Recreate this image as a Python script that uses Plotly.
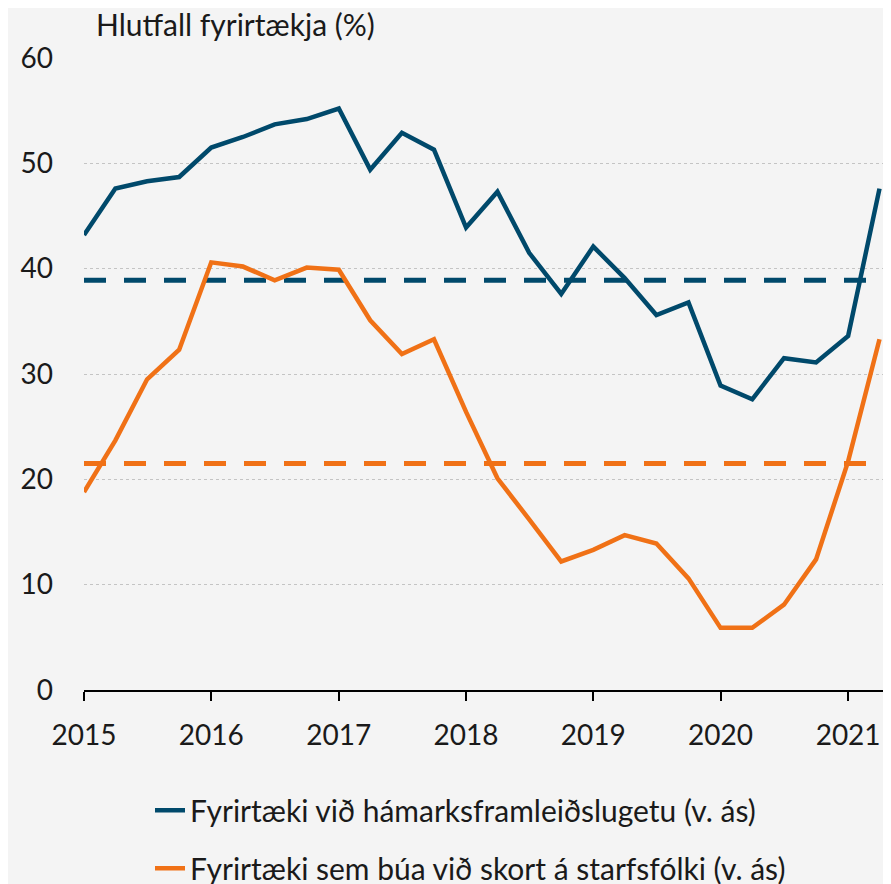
import plotly.graph_objects as go

quarters = [
    "2015-01-01", "2015-04-01", "2015-07-01", "2015-10-01",
    "2016-01-01", "2016-04-01", "2016-07-01", "2016-10-01",
    "2017-01-01", "2017-04-01", "2017-07-01", "2017-10-01",
    "2018-01-01", "2018-04-01", "2018-07-01", "2018-10-01",
    "2019-01-01", "2019-04-01", "2019-07-01", "2019-10-01",
    "2020-01-01", "2020-04-01", "2020-07-01", "2020-10-01",
    "2021-01-01", "2021-04-01",
]

capacity = [
    43.2, 47.6, 48.3, 48.7,
    51.5, 52.5, 53.7, 54.2,
    55.2, 49.4, 52.9, 51.3,
    43.9, 47.3, 41.5, 37.6,
    42.1, 39.1, 35.6, 36.8,
    28.9, 27.6, 31.5, 31.1,
    33.6, 47.6,
]

labour_shortage = [
    18.8, 23.7, 29.5, 32.3,
    40.6, 40.2, 38.9, 40.1,
    39.9, 35.1, 31.9, 33.3,
    26.4, 20.1, 16.2, 12.2,
    13.3, 14.7, 13.9, 10.6,
    5.9, 5.9, 8.1, 12.4,
    21.7, 33.3,
]

capacity_avg = 38.9
labour_avg = 21.5

names = [
    "Fyrirtæki við hámarksframleiðslugetu (v. ás)",
    "Fyrirtæki sem búa við skort á starfsfólki (v. ás)",
]

x_range = ["2015-01-01", "2021-05-04"]

BLUE = "#00496b"
ORANGE = "#f07116"
FONT = "Lato"
TXT = "#1a1a1a"

# page body has an 8px margin; compensate so the figure lines up with the 891x884 window
W, H = 883, 876

fig = go.Figure()

fig.add_hline(y=capacity_avg, line=dict(color=BLUE, width=5, dash="22px,18px"), layer="below")
fig.add_hline(y=labour_avg, line=dict(color=ORANGE, width=5, dash="22px,18px"), layer="below")

fig.add_trace(go.Scatter(x=quarters, y=capacity, mode="lines", name=names[0],
                         line=dict(color=BLUE, width=4.5), legendgroup="a"))
fig.add_trace(go.Scatter(x=quarters, y=labour_shortage, mode="lines", name=names[1],
                         line=dict(color=ORANGE, width=4.5), legendgroup="b"))

fig.update_layout(
    width=W, height=H,
    margin=dict(l=76, r=0, t=50, b=194, autoexpand=False),
    paper_bgcolor="#f4f4f4", plot_bgcolor="#f4f4f4",
    font=dict(family=FONT, size=30, color=TXT),
    title=dict(text="Hlutfall fyrirtækja (%)", x=88/W, xanchor="left",
               y=1, yanchor="top", pad=dict(t=7, b=0, l=0, r=0),
               font=dict(family=FONT, size=30, color=TXT)),
    showlegend=True,
    legend=dict(orientation="v", x=(150-84)/807, xanchor="left",
                y=-0.149, yanchor="top", traceorder="grouped", tracegroupgap=16,
                bgcolor="rgba(0,0,0,0)", font=dict(family=FONT, size=30, color=TXT)),
    xaxis=dict(type="date", range=x_range,
               dtick="M12", tick0="2015-01-01", tickformat="%Y",
               showgrid=False, showline=True, linecolor="black", linewidth=2,
               ticks="outside", ticklen=9, tickwidth=2, tickcolor="black",
               ticklabelstandoff=10, zeroline=False,
               tickfont=dict(family=FONT, size=28, color=TXT)),
    yaxis=dict(range=[0, 60], dtick=10, showgrid=True, gridcolor="#c4c4c4",
               gridwidth=1, griddash="3px,3px", zeroline=False, showline=False,
               ticks="", ticklabelstandoff=30,
               tickfont=dict(family=FONT, size=28, color=TXT)),
)

fig.write_html("out.html")
